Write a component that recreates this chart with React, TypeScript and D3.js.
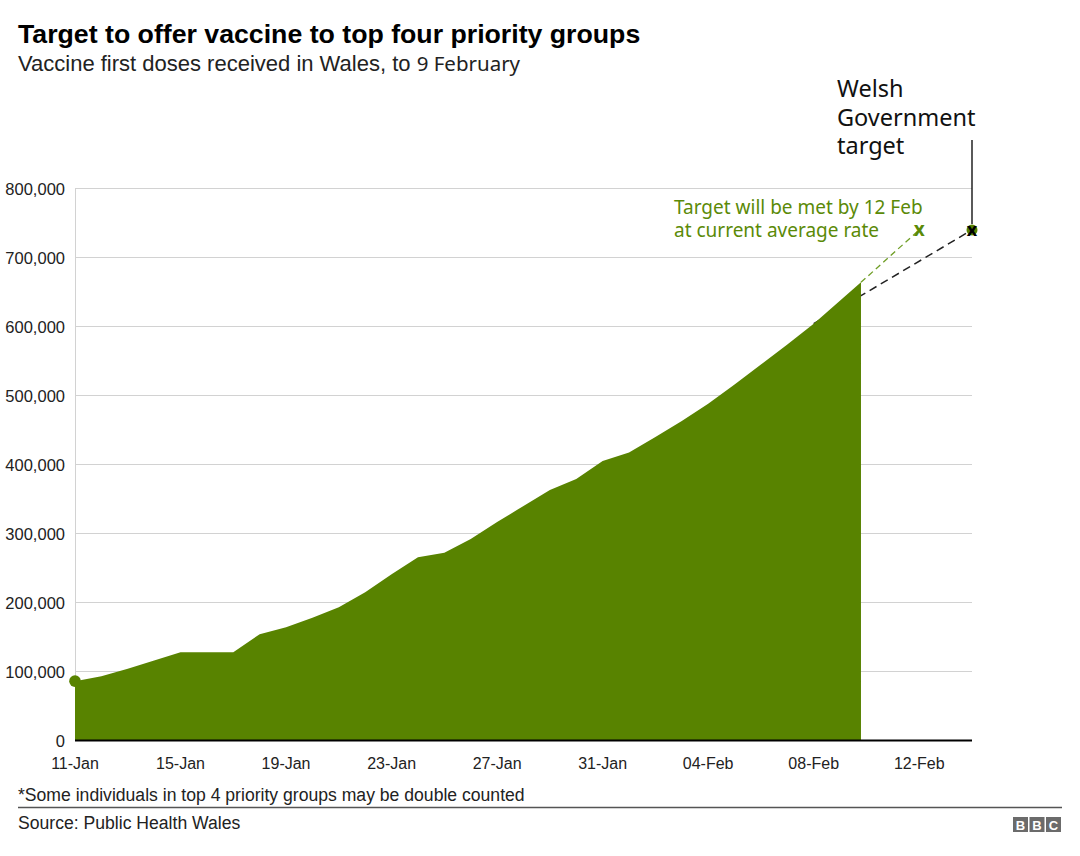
import React from "react";
import * as d3 from "d3";

const dates: string[] = [
  "2021-01-11", "2021-01-12", "2021-01-13", "2021-01-14", "2021-01-15", "2021-01-16",
  "2021-01-17", "2021-01-18", "2021-01-19", "2021-01-20", "2021-01-21", "2021-01-22",
  "2021-01-23", "2021-01-24", "2021-01-25", "2021-01-26", "2021-01-27", "2021-01-28",
  "2021-01-29", "2021-01-30", "2021-01-31", "2021-02-01", "2021-02-02", "2021-02-03",
  "2021-02-04", "2021-02-05", "2021-02-06", "2021-02-07", "2021-02-08", "2021-02-09T19:00",
];
const doses: number[] = [
  86000, 93000, 104000, 116000, 128000, 128000,
  128000, 154000, 164000, 178000, 193000, 215000,
  241000, 265500, 272000, 292000, 316500, 340000,
  363000, 379000, 405000, 417500, 440000, 463000,
  488000, 516000, 545000, 574000, 604000, 664000,
];
const projectionStart = "2021-02-08";
const projectionStartValue = 604000;
const currentRateDate = "2021-02-12";
const targetDate = "2021-02-14";
const targetValue = 740000;
const yTicks: number[] = [0, 100000, 200000, 300000, 400000, 500000, 600000, 700000, 800000];
const xTickDates: string[] = [
  "2021-01-11", "2021-01-15", "2021-01-19", "2021-01-23", "2021-01-27",
  "2021-01-31", "2021-02-04", "2021-02-08", "2021-02-12",
];

const GREEN = "#588300";
const TEXT_GREEN = "#5b8a07";

export default function App() {
  const parse = (s: string) => new Date(s.length > 10 ? s : s + "T00:00");
  const x = d3.scaleTime().domain([parse("2021-01-11"), parse("2021-02-14")]).range([75, 972]);
  const y = d3.scaleLinear().domain([0, 800000]).range([740.5, 188.5]);
  const data = dates.map((d, i) => ({ date: parse(d), value: doses[i] }));
  const area = d3
    .area<{ date: Date; value: number }>()
    .x((d) => x(d.date))
    .y0(y(0))
    .y1((d) => y(d.value));
  const fmtY = d3.format(",");
  const fmtX = d3.timeFormat("%d-%b");
  const sx = x(parse(projectionStart));
  const sy = y(projectionStartValue);
  const last = data[data.length - 1];
  const lx = x(last.date);
  const ly = y(last.value);
  const gx = x(parse(currentRateDate));
  const tx = x(parse(targetDate));
  const ty = y(targetValue);

  return (
    <svg width={1080} height={856} style={{ display: "block", position: "absolute", left: 0, top: 0 }}>
      <rect width={1080} height={856} fill="#fff" />
      <text x={18} y={43} fontFamily="Liberation Sans, Arial, sans-serif" fontWeight="bold" fontSize={26.7} fill="#000">
        Target to offer vaccine to top four priority groups
      </text>
      <text x={18} y={71} fontFamily="Liberation Sans, Arial, sans-serif" fontSize={22} fill="#222">
        Vaccine first doses received in Wales, to{" "}
        <tspan fontFamily="Noto Sans, sans-serif" fontSize={20.5}>9 February</tspan>
      </text>

      {/* gridlines */}
      {yTicks.map((t) => (
        <line key={t} x1={75} x2={972} y1={y(t)} y2={y(t)} stroke="#d2d2d2" strokeWidth={1} />
      ))}
      <line x1={75.5} x2={75.5} y1={y(800000)} y2={y(0)} stroke="#d2d2d2" strokeWidth={1} />

      {yTicks.map((t) => (
        <text key={t} x={65} y={y(t) + 6} textAnchor="end" fontFamily="Liberation Sans, Arial, sans-serif" fontSize={16.5} fill="#222">
          {fmtY(t)}
        </text>
      ))}

      {/* projection lines */}
      <line x1={sx} y1={sy} x2={tx} y2={ty} stroke="#222" strokeWidth={1.5} strokeDasharray="8,5" />
      <path d={area(data) || ""} fill={GREEN} />
      <line x1={lx} y1={ly} x2={gx} y2={ty} stroke="#6f9e25" strokeWidth={1.3} strokeDasharray="6,4" />
      <circle cx={x(data[0].date)} cy={y(data[0].value)} r={5.8} fill={GREEN} />

      {/* baseline */}
      <line x1={75} x2={972} y1={y(0)} y2={y(0)} stroke="#000" strokeWidth={2} />

      {xTickDates.map((d) => (
        <text key={d} x={x(parse(d))} y={769} textAnchor="middle" fontFamily="Liberation Sans, Arial, sans-serif" fontSize={16} fill="#222">
          {fmtX(parse(d))}
        </text>
      ))}

      {/* markers */}
      <text x={gx} y={ty + 6} textAnchor="middle" fontFamily="Noto Sans, sans-serif" fontWeight="bold" fontSize={19} fill={TEXT_GREEN}>
        x
      </text>
      <circle cx={tx} cy={ty} r={5.5} fill={GREEN} />
      <text x={tx} y={ty + 6} textAnchor="middle" fontFamily="Noto Sans, sans-serif" fontWeight="bold" fontSize={18} fill="#000">
        x
      </text>
      <line x1={tx} x2={tx} y1={140} y2={ty - 6} stroke="#000" strokeWidth={1.3} />

      {/* annotations */}
      <text x={674} y={214} fontFamily="Noto Sans, sans-serif" fontSize={19} fill={TEXT_GREEN}>Target will be met by 12 Feb</text>
      <text x={674} y={237} fontFamily="Noto Sans, sans-serif" fontSize={19} fill={TEXT_GREEN}>at current average rate</text>
      <text x={837} y={97} fontFamily="Noto Sans, sans-serif" fontSize={23.5} fill="#111">Welsh</text>
      <text x={837} y={125.5} fontFamily="Noto Sans, sans-serif" fontSize={23.5} fill="#111">Government</text>
      <text x={837} y={154} fontFamily="Noto Sans, sans-serif" fontSize={23.5} fill="#111">target</text>

      {/* footer */}
      <text x={18} y={801} fontFamily="Liberation Sans, Arial, sans-serif" fontSize={17.6} fill="#222">
        *Some individuals in top 4 priority groups may be double counted
      </text>
      <line x1={18} x2={1062} y1={807.5} y2={807.5} stroke="#555" strokeWidth={1.5} />
      <text x={18} y={829} fontFamily="Liberation Sans, Arial, sans-serif" fontSize={17.6} fill="#222">
        Source: Public Health Wales
      </text>
      {["B", "B", "C"].map((l, i) => (
        <g key={i}>
          <rect x={1013 + i * 16.5} y={817} width={15} height={15} fill="#6b6b6b" />
          <text x={1013 + i * 16.5 + 7.5} y={829.5} textAnchor="middle" fontFamily="Liberation Sans, Arial, sans-serif" fontWeight="bold" fontSize={13} fill="#fff">
            {l}
          </text>
        </g>
      ))}
    </svg>
  );
}
